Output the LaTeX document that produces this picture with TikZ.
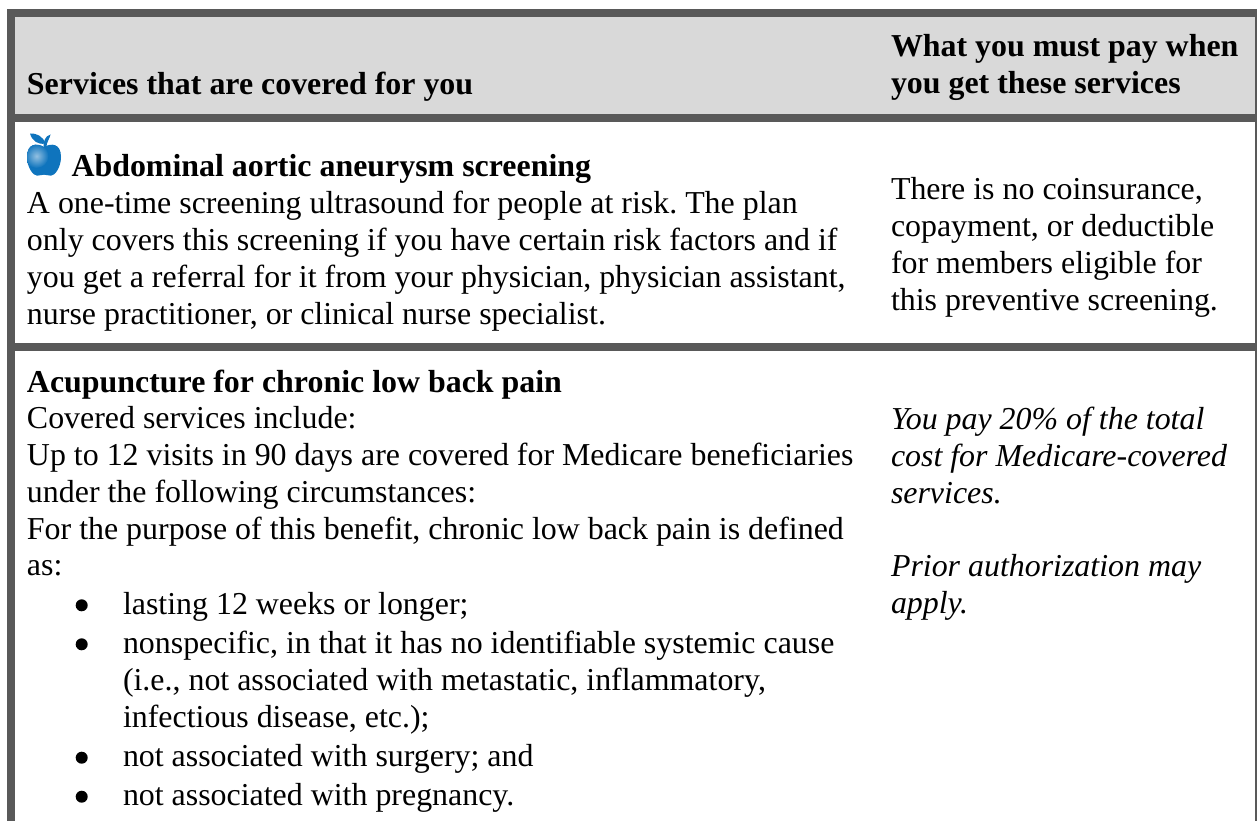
\documentclass[tikz,border=0pt]{standalone}
\usepackage{fontspec}
\setmainfont{Liberation Serif}
\frenchspacing
\definecolor{bar}{HTML}{595959}
\definecolor{hdr}{HTML}{D9D9D9}
\definecolor{applec}{HTML}{0F74BD}
\tikzset{
 line/.style={anchor=base west,inner sep=0pt,outer sep=0pt,font=\fontsize{31.9}{36.8}\selectfont},
 bline/.style={line,font=\fontsize{31.9}{36.8}\selectfont\bfseries},
 iline/.style={line,font=\fontsize{31.9}{36.8}\selectfont\itshape},
 bul/.style={circle,fill=black,inner sep=0pt,minimum size=12pt}
}
\begin{document}
\begin{tikzpicture}[x=1pt,y=-1pt]
\useasboundingbox (0,0) rectangle (1257,821);
\fill[white] (0,0) rectangle (1257,821);
\fill[hdr] (15,17) rectangle (1255,114);
\fill[bar] (7,9) rectangle (1257,17);
\fill[bar] (7,114) rectangle (1257,122);
\fill[bar] (7,343) rectangle (1257,351);
\fill[bar] (7,9) rectangle (15,821);
\fill[bar] (1255,9) rectangle (1257,821);
% header
\node[bline] (h1) at (27,95) {Services that are covered for you};
\node[bline] (h2a) at (891,57) {What you must pay when};
\node[bline] (h2b) at (891,94) {you get these services};
% apple
\begin{scope}
\clip (44,147) .. controls (37,143) and (27,143) .. (27,157) .. controls (27,167) and (33,175.7) .. (37,175.7) .. controls (40,175.7) and (41,174.7) .. (44,174.7) .. controls (47,174.7) and (48,175.7) .. (51,175.7) .. controls (55,175.7) and (61,167) .. (61,157) .. controls (61,143) and (51,143) .. (44,147) -- cycle;
\fill[applec] (25,140) rectangle (63,178);
\shade[inner color=white!55!applec,outer color=applec] (36.5,156) circle (12pt);
\end{scope}
\fill[applec] (30,133.5) .. controls (36,133) and (43,136) .. (45.5,143.5) .. controls (38,145) and (32,141) .. (30,133.5) -- cycle;
\fill[applec] (50.5,134.5) .. controls (50,138) and (47,141) .. (46,148) -- (43.5,148) .. controls (43.5,141) and (45,136) .. (50.5,134.5) -- cycle;
% row 1
\node[bline] (r1t) at (71.5,177) {Abdominal aortic aneurysm screening};
\node[line] (r1a) at (27,213.5) {A one-time screening ultrasound for people at risk. The plan};
\node[line] (r1b) at (27,250) {only covers this screening if you have certain risk factors and if};
\node[line] (r1c) at (27,287) {you get a referral for it from your physician, physician assistant,};
\node[line] (r1d) at (27,324) {nurse practitioner, or clinical nurse specialist.};
\node[line] (p1a) at (891,200) {There is no coinsurance,};
\node[line] (p1b) at (891,236.7) {copayment, or deductible};
\node[line] (p1c) at (891,273.5) {for members eligible for};
\node[line] (p1d) at (891,310) {this preventive screening.};
% row 2
\node[bline] (r2t) at (27,392) {Acupuncture for chronic low back pain};
\node[line] (r2a) at (27,428.5) {Covered services include:};
\node[line] (r2b) at (27,465.5) {Up to 12 visits in 90 days are covered for Medicare beneficiaries};
\node[line] (r2c) at (27,502.5) {under the following circumstances:};
\node[line] (r2d) at (27,539) {For the purpose of this benefit, chronic low back pain is defined};
\node[line] (r2e) at (27,575.5) {as:};
\node[bul] (b1) at (81.7,605.3) {};
\node[line] (r2f) at (123,614.5) {lasting 12 weeks or longer;};
\node[bul] (b2) at (81.7,644.3) {};
\node[line] (r2g) at (123,653.5) {nonspecific, in that it has no identifiable systemic cause};
\node[line] (r2h) at (123,690.5) {(i.e., not associated with metastatic, inflammatory,};
\node[line] (r2i) at (123,727.5) {infectious disease, etc.);};
\node[bul] (b3) at (81.7,757.7) {};
\node[line] (r2j) at (123,766.7) {not associated with surgery; and};
\node[bul] (b4) at (81.7,796.7) {};
\node[line] (r2k) at (123,805.5) {not associated with pregnancy.};
\node[iline] (p2a) at (891,429.3) {You pay 20\% of the total};
\node[iline] (p2b) at (891,466.5) {cost for Medicare-covered};
\node[iline] (p2c) at (891,503.3) {services.};
\node[iline] (p2d) at (891,576) {Prior authorization may};
\node[iline] (p2e) at (891,613.3) {apply.};
\end{tikzpicture}
\end{document}
